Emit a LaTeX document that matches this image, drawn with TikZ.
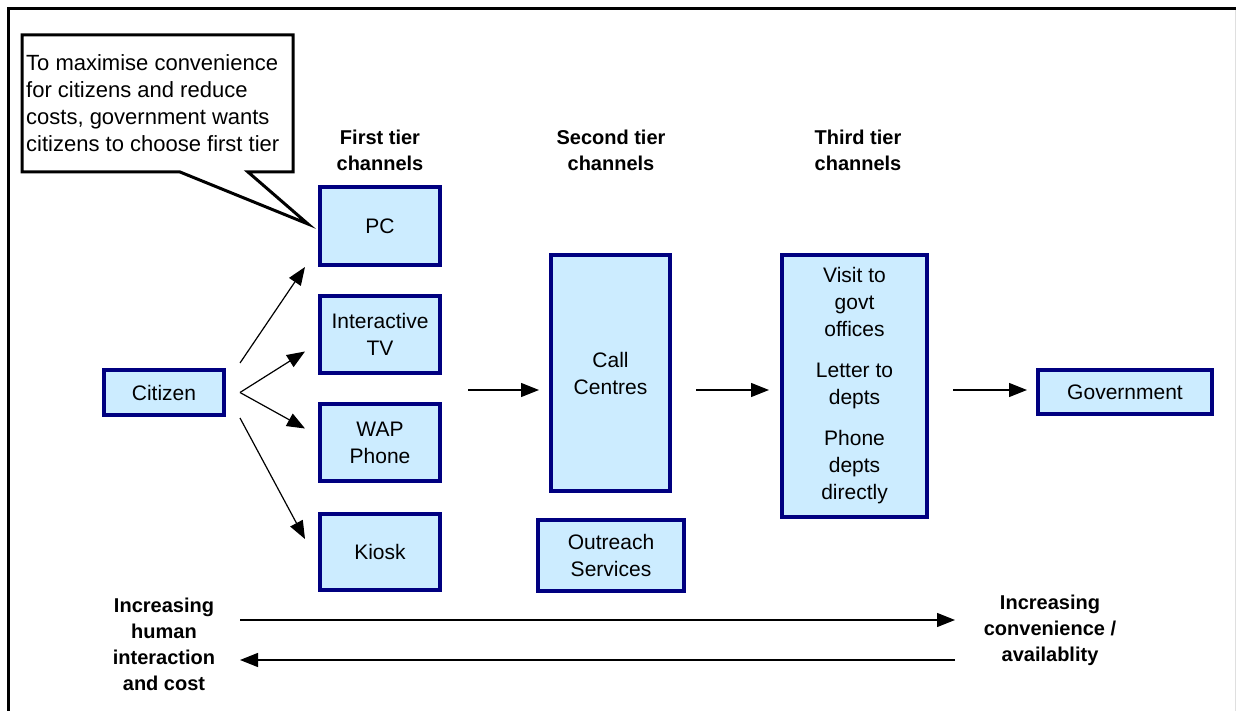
\documentclass[tikz,border=0pt]{standalone}
\usepackage{fontspec}
\setmainfont{Liberation Sans}
\usetikzlibrary{arrows.meta}

\begin{document}
\begin{tikzpicture}[x=1pt,y=-1pt,
	box/.style={draw=boxline,fill=boxfill,line width=4pt,align=center,inner sep=0pt,font=\fontsize{21}{27}\selectfont},
	head/.style={align=center,inner sep=0pt,font=\bfseries\fontsize{20}{26}\selectfont},
	arr/.style={-{Triangle[length=18pt,width=14pt]},line width=1.2pt}]
\definecolor{boxfill}{RGB}{204,236,255}
\definecolor{boxline}{RGB}{0,0,128}

	\useasboundingbox (0,0) rectangle (1236,711);
	\draw[line width=3pt] (8,711) -- (8,8.5) -- (1236,8.5);
	\draw[gray!25] (1235,10) -- (1235,711);

	% callout
	\draw[line width=3pt,fill=white] (22,35)--(293,35)--(293,172)--(248,172)--(308,224)--(180,172)--(22,172)--cycle;
	\node[anchor=west,align=left,inner sep=0pt,font=\fontsize{22}{27}\selectfont] (note) at (26,103) {To maximise convenience\\for citizens and reduce\\costs, government wants\\citizens to choose first tier};

	% headings
	\node[head] (h1) at (380,150) {First tier\\channels};
	\node[head] (h2) at (611,150) {Second tier\\channels};
	\node[head] (h3) at (858,150) {Third tier\\channels};

	\node[box,minimum width=120pt,minimum height=45pt] (citizen) at (164,392.5) {Citizen};

	\node[box,minimum width=120pt,minimum height=78pt] (pc) at (380,226) {PC};
	\node[box,minimum width=120pt,minimum height=77pt] (itv) at (380,334.5) {Interactive\\TV};
	\node[box,minimum width=120pt,minimum height=77pt] (wap) at (380,442.5) {WAP\\Phone};
	\node[box,minimum width=120pt,minimum height=76pt] (kiosk) at (380,552) {Kiosk};

	\node[box,minimum width=119pt,minimum height=236pt] (call) at (610.5,373) {Call\\Centres};
	\node[box,minimum width=146pt,minimum height=71pt] (outreach) at (611,555.5) {Outreach\\Services};

	\node[box,minimum width=145pt,minimum height=262pt] (third) at (854.5,386) {Visit to\\govt\\offices\\[14pt]Letter to\\depts\\[14pt]Phone\\depts\\directly};

	\node[box,minimum width=174pt,minimum height=44pt] (gov) at (1125,392) {Government};

	\draw[arr] ([xshift=14pt,yshift=5pt]citizen.north east) -- ([xshift=-13pt]pc.south west);
	\draw[arr] ([xshift=14pt]citizen.east) -- ([xshift=-13pt,yshift=-17pt]itv.west);
	\draw[arr] ([xshift=14pt]citizen.east) -- ([xshift=-13pt,yshift=14pt]wap.west);
	\draw[arr] ([xshift=14pt,yshift=-1pt]citizen.south east) -- ([xshift=-13pt,yshift=13pt]kiosk.west);

	\coordinate (flow) at (468,390);
	\draw[arr,shorten >=10pt] (flow) -- (flow -| call.west);
	\draw[arr,shorten <=24pt,shorten >=11pt] (call.east |- flow) -- (third.west |- flow);
	\draw[arr,shorten <=24pt,shorten >=9pt] (third.east |- flow) -- (gov.west |- flow);

	% bottom
	\node[head] (human) at (164,644) {Increasing\\human\\interaction\\and cost};
	\node[head] (conv) at (1050,630) {Increasing\\convenience /\\availablity};
	\coordinate (r1) at (240,620);
	\coordinate (r2) at (955,620);
	\coordinate (l1) at (955,660);
	\coordinate (l2) at (240,660);
	\draw[arr] (r1) -- (r2);
	\draw[arr] (l1) -- (l2);

\end{tikzpicture}
\end{document}
